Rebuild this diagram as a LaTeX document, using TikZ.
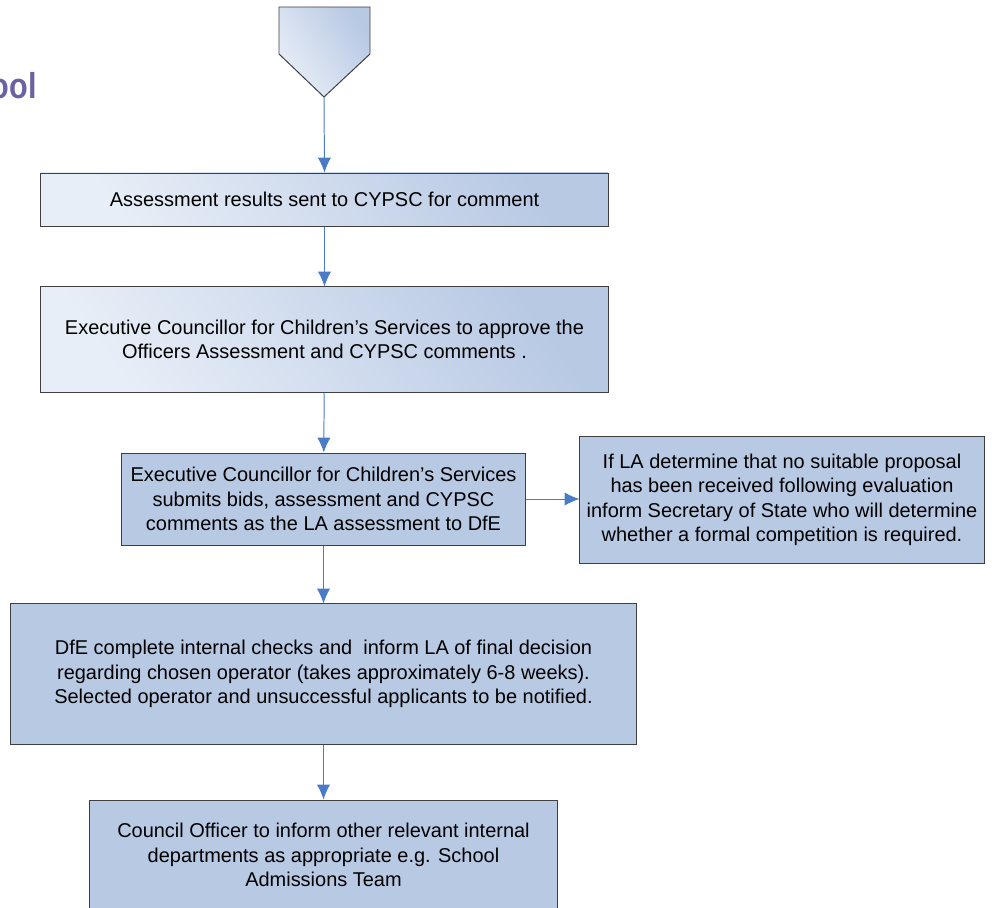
\documentclass[tikz,border=0pt]{standalone}
\usepackage{fontspec}
\setmainfont{Liberation Sans}
\usepackage{tikz}
\usetikzlibrary{positioning,arrows.meta}

\definecolor{boxblue}{HTML}{B8C9E4}
\definecolor{boxlight}{HTML}{E8EEF7}
\definecolor{lineblue}{HTML}{4A7CC6}
\definecolor{edgegray}{HTML}{3F3F3F}
\definecolor{titlepurple}{HTML}{6A62A4}

\tikzset{
  stepbox/.style={rectangle, draw=edgegray, line width=0.7pt, fill=boxblue, align=center, inner sep=2pt,
                  font=\fontsize{14.2}{17.4}\selectfont},
  shadebox/.style={stepbox, left color=boxlight, right color=boxblue, shading angle=125},
  flowarrow/.style={->,>={Latex[length=0.37cm,width=0.33cm]}, line width=0.7pt, color=lineblue}
}

\begin{document}
\begin{tikzpicture}[x=0.025cm, y=-0.025cm]
      \useasboundingbox (0,0) rectangle (992,907);

      % title cut off at the left margin
      \node[anchor=base east, inner sep=0pt, text=titlepurple, font=\fontsize{25.6}{28}\selectfont\bfseries] (title) at (37,99) {\scalebox{0.85}[1]{ool}};

      % start marker
      \draw[draw=edgegray, line width=0.7pt, left color=boxlight, right color=boxblue, shading angle=125]
            (279,7) -- (370,7) -- (370,54) -- (324,97) -- (279,54) -- cycle;
      \coordinate (start) at (324,97);

      \node[shadebox, minimum width=14.175cm, minimum height=1.325cm] (results) at (324.5,199.5)
            {Assessment results sent to CYPSC for comment};

      \node[shadebox, minimum width=14.175cm, minimum height=2.625cm] (approve) at (324.5,339.5)
            {Executive Councillor for Children’s Services to approve the\\Officers Assessment and CYPSC comments .};

      \node[stepbox, minimum width=10.075cm, minimum height=2.3cm] (submit) at (323.5,499)
            {Executive Councillor for Children’s Services\\submits bids, assessment and CYPSC\\comments as the LA assessment to DfE};

      \node[stepbox, minimum width=10.1cm, minimum height=3.15cm] (nosuit) at (782,500)
            {If LA determine that no suitable proposal\\has been received following evaluation\\inform Secretary of State who will determine\\whether a formal competition is required.};

      \node[stepbox, minimum width=15.625cm, minimum height=3.5cm] (dfe) at (323.5,674)
            {DfE complete internal checks and\ \ inform LA of final decision\\regarding chosen operator (takes approximately 6-8 weeks).\\Selected operator and unsuccessful applicants to be notified.};

      \node[stepbox, minimum width=11.675cm, minimum height=2.75cm] (inform) at (323.5,855)
            {Council Officer to inform other relevant internal\\departments as appropriate e.g. School\\Admissions Team};

      % connectors
      \draw[flowarrow] (start) -- (results.north);
      \draw[flowarrow] (results) -- (approve);
      \draw[flowarrow] (approve) -- (submit);
      \draw[flowarrow] (submit) -- (nosuit.west |- submit);
      \draw[flowarrow] (submit) -- (dfe);
      \draw[flowarrow] (dfe) -- (inform);

\end{tikzpicture}
\end{document}
